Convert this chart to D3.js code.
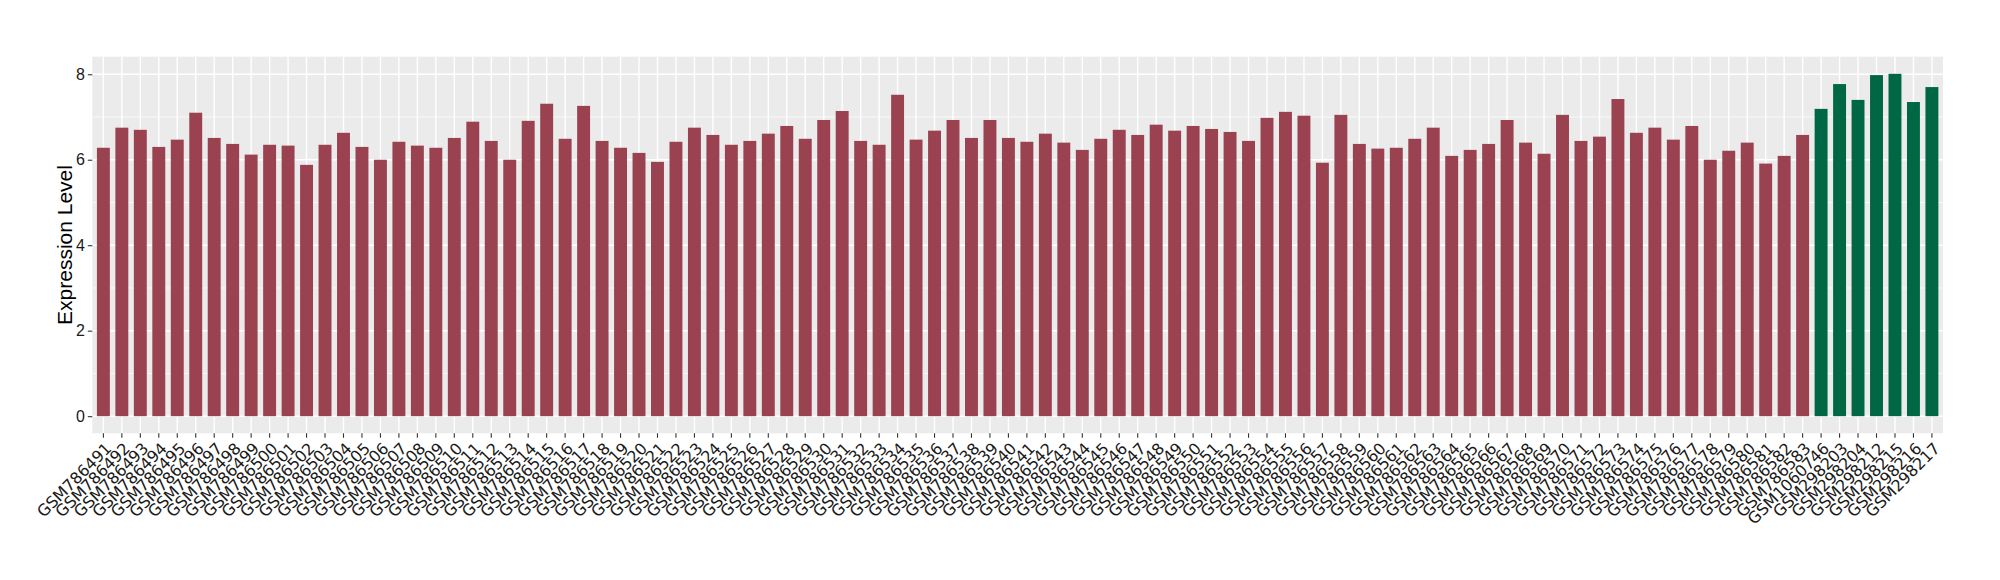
<!DOCTYPE html>
<html>
<head>
<meta charset="utf-8">
<script src="https://cdnjs.cloudflare.com/ajax/libs/d3/7.8.5/d3.min.js"></script>
<style>
  body { margin: 0; background: #fff; }
  svg { display: block; }
</style>
</head>
<body>
<div id="chart"></div>
<script>
var redSamples = [];
for (var n = 786491; n <= 786583; n++) redSamples.push("GSM" + n);
var greenSamples = ["GSM1060746", "GSM298203", "GSM298204", "GSM298212", "GSM298215", "GSM298216", "GSM298217"];

var redValues = [
  6.28, 6.75, 6.70, 6.30, 6.47, 7.10, 6.51, 6.37, 6.12, 6.35,
  6.33, 5.88, 6.35, 6.63, 6.30, 6.00, 6.42, 6.33, 6.28, 6.51,
  6.89, 6.44, 6.00, 6.91, 7.31, 6.49, 7.26, 6.44, 6.28, 6.16,
  5.95, 6.42, 6.75, 6.58, 6.35, 6.44, 6.61, 6.79, 6.49, 6.93,
  7.14, 6.44, 6.35, 7.52, 6.47, 6.68, 6.93, 6.51, 6.93, 6.51,
  6.42, 6.61, 6.40, 6.23, 6.49, 6.70, 6.58, 6.82, 6.68, 6.79,
  6.72, 6.65, 6.44, 6.98, 7.12, 7.03, 5.93, 7.05, 6.37, 6.26,
  6.28, 6.49, 6.75, 6.09, 6.23, 6.37, 6.93, 6.40, 6.14, 7.05,
  6.44, 6.54, 7.42, 6.63, 6.75, 6.47, 6.79, 6.00, 6.21, 6.40,
  5.91, 6.09, 6.58
];
var greenValues = [7.19, 7.77, 7.40, 7.98, 8.01, 7.35, 7.70];

var yTicks = [0, 2, 4, 6, 8];
var yMinor = [1, 3, 5, 7];

var data = redSamples.map(function(s, i) { return {name: s, value: redValues[i], group: "red"}; })
  .concat(greenSamples.map(function(s, i) { return {name: s, value: greenValues[i], group: "green"}; }));

var width = 2000, height = 580;
var pLeft = 92.3, pRight = 1943, pTop = 56.7, pBottom = 433.3;
var colors = {red: "#9a4250", green: "#006745"};

var svg = d3.select("#chart").append("svg")
  .attr("width", width).attr("height", height);

var x = d3.scaleBand()
  .domain(data.map(function(d) { return d.name; }))
  .range([pLeft, pRight])
  .paddingInner(0.3)
  .paddingOuter(0.25);

var maxV = d3.max(data, function(d) { return d.value; });
var y = d3.scaleLinear()
  .domain([-maxV * 0.05, maxV * 1.05])
  .range([pBottom, pTop]);

// panel
svg.append("rect")
  .attr("x", pLeft).attr("y", pTop)
  .attr("width", pRight - pLeft).attr("height", pBottom - pTop)
  .attr("fill", "#ebebeb");

var grid = svg.append("g");
grid.selectAll(".minor")
  .data(yMinor).enter().append("line")
  .attr("x1", pLeft).attr("x2", pRight)
  .attr("y1", function(d) { return y(d); }).attr("y2", function(d) { return y(d); })
  .attr("stroke", "#fff").attr("stroke-width", 0.7);
grid.selectAll(".major")
  .data(yTicks).enter().append("line")
  .attr("x1", pLeft).attr("x2", pRight)
  .attr("y1", function(d) { return y(d); }).attr("y2", function(d) { return y(d); })
  .attr("stroke", "#fff").attr("stroke-width", 1.4);
grid.selectAll(".vert")
  .data(data).enter().append("line")
  .attr("x1", function(d) { return x(d.name) + x.bandwidth() / 2; })
  .attr("x2", function(d) { return x(d.name) + x.bandwidth() / 2; })
  .attr("y1", pTop).attr("y2", pBottom)
  .attr("stroke", "#fff").attr("stroke-width", 1.4);

svg.append("g").selectAll("rect")
  .data(data).enter().append("rect")
  .attr("x", function(d) { return x(d.name); })
  .attr("width", x.bandwidth())
  .attr("y", function(d) { return y(d.value); })
  .attr("height", function(d) { return y(0) - y(d.value); })
  .attr("fill", function(d) { return colors[d.group]; });

// y axis
var yAxis = svg.append("g")
  .attr("transform", "translate(" + pLeft + ",0)")
  .call(d3.axisLeft(y).tickValues(yTicks).tickSize(4.5).tickPadding(3).tickFormat(d3.format("d")));
yAxis.select(".domain").remove();
yAxis.selectAll("line").attr("stroke", "#333").attr("stroke-width", 1.1);
yAxis.selectAll("text")
  .attr("font-family", "Liberation Sans, Arial, sans-serif")
  .attr("font-size", 16).attr("fill", "#1a1a1a");

// x axis
var xAxis = svg.append("g")
  .attr("transform", "translate(0," + pBottom + ")")
  .call(d3.axisBottom(x).tickSize(4.5).tickFormat(""));
xAxis.select(".domain").remove();
xAxis.selectAll("line").attr("stroke", "#333").attr("stroke-width", 1.1);

svg.append("g").selectAll("text")
  .data(data).enter().append("text")
  .attr("transform", function(d) {
    return "translate(" + (x(d.name) + x.bandwidth() / 2 + 1) + "," + (pBottom + 8) + ") rotate(-45)";
  })
  .attr("text-anchor", "end")
  .attr("dy", "0.72em")
  .attr("font-family", "DejaVu Sans, sans-serif")
  .attr("font-size", 16)
  .attr("fill", "#1a1a1a")
  .text(function(d) { return d.name; });

svg.append("text")
  .attr("transform", "translate(" + 65 + "," + ((pTop + pBottom) / 2) + ") rotate(-90)")
  .attr("text-anchor", "middle")
  .attr("dy", "0.35em")
  .attr("font-family", "Liberation Sans, Arial, sans-serif")
  .attr("font-size", 21)
  .attr("fill", "#000")
  .text("Expression Level");
</script>
</body>
</html>
